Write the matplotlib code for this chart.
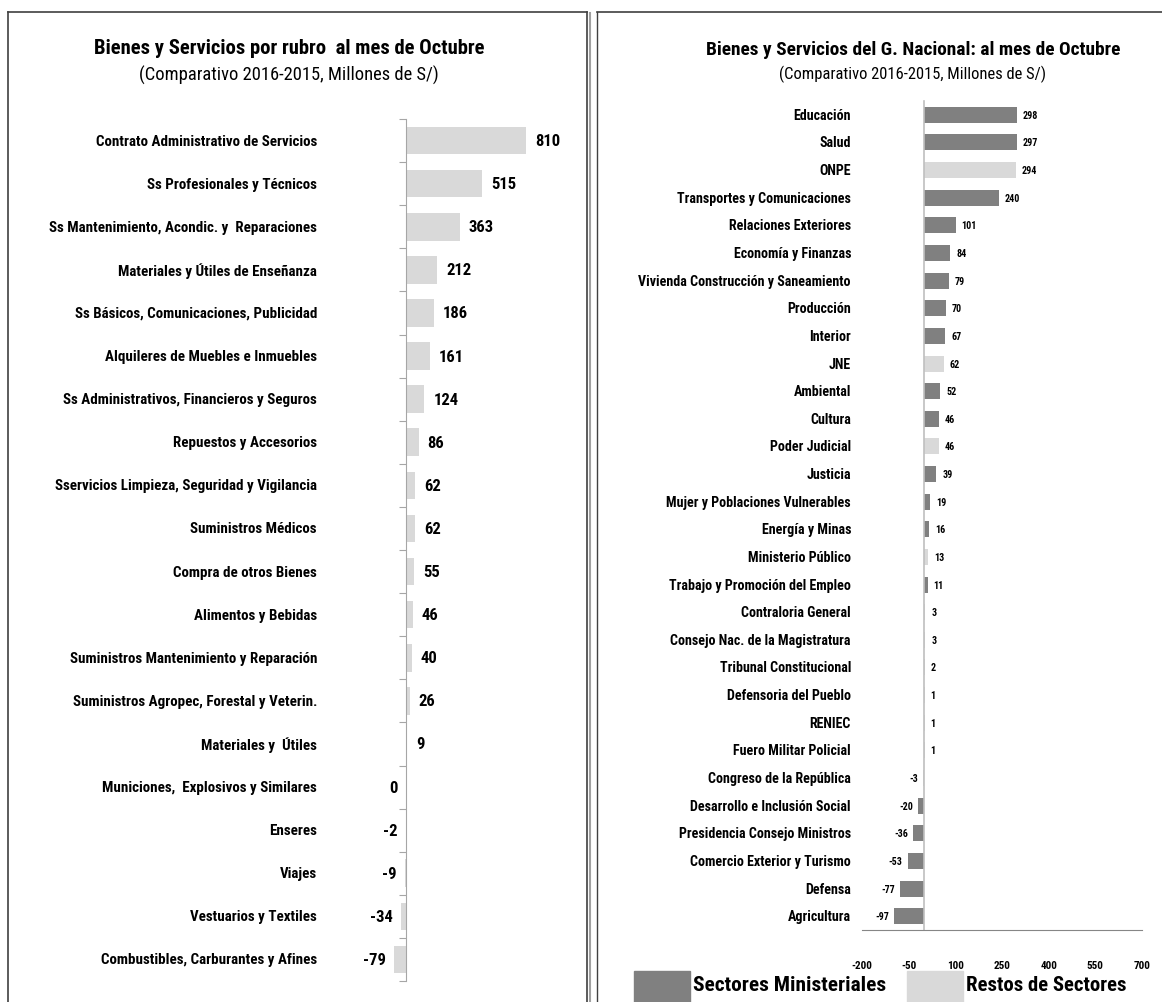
import matplotlib
matplotlib.use("Agg")
import matplotlib.pyplot as plt
from matplotlib import font_manager as fm
from matplotlib.font_manager import FontProperties
from matplotlib.patches import Rectangle
from matplotlib.lines import Line2D

# ---------------- data ----------------
rubros = [
    "Contrato Administrativo de Servicios",
    "Ss Profesionales y Técnicos",
    "Ss Mantenimiento, Acondic. y  Reparaciones",
    "Materiales y Útiles de Enseñanza",
    "Ss Básicos, Comunicaciones, Publicidad",
    "Alquileres de Muebles e Inmuebles",
    "Ss Administrativos, Financieros y Seguros",
    "Repuestos y Accesorios",
    "Sservicios Limpieza, Seguridad y Vigilancia",
    "Suministros Médicos",
    "Compra de otros Bienes",
    "Alimentos y Bebidas",
    "Suministros Mantenimiento y Reparación",
    "Suministros Agropec, Forestal y Veterin.",
    "Materiales y  Útiles",
    "Municiones,  Explosivos y Similares",
    "Enseres",
    "Viajes",
    "Vestuarios y Textiles",
    "Combustibles, Carburantes y Afines",
]
rubro_vals = [810, 515, 363, 212, 186, 161, 124, 86, 62, 62, 55, 46, 40, 26, 9, 0, -2, -9, -34, -79]

sectores = [
    "Educación", "Salud", "ONPE", "Transportes y Comunicaciones",
    "Relaciones Exteriores", "Economía y Finanzas",
    "Vivienda Construcción y Saneamiento", "Producción", "Interior", "JNE",
    "Ambiental", "Cultura", "Poder Judicial", "Justicia",
    "Mujer y Poblaciones Vulnerables", "Energía y Minas", "Ministerio Público",
    "Trabajo y Promoción del Empleo", "Contraloria General",
    "Consejo Nac. de la Magistratura", "Tribunal Constitucional",
    "Defensoria del Pueblo", "RENIEC", "Fuero Militar Policial",
    "Congreso de la República", "Desarrollo e Inclusión Social",
    "Presidencia Consejo Ministros", "Comercio Exterior y Turismo",
    "Defensa", "Agricultura",
]
sector_vals = [298, 297, 294, 240, 101, 84, 79, 70, 67, 62, 52, 46, 46, 39,
               19, 16, 13, 11, 3, 3, 2, 1, 1, 1, -3, -20, -36, -53, -77, -97]
# 1 = Sectores Ministeriales, 0 = Restos de Sectores
sector_tipo = [1, 1, 0, 1, 1, 1, 1, 1, 1, 0, 1, 1, 0, 1,
               1, 1, 0, 1, 0, 0, 0, 0, 0, 0, 0, 1, 1, 1, 1, 1]
x_ticks_right = [-200, -50, 100, 250, 400, 550, 700]
legend_labels = ["Sectores Ministeriales", "Restos de Sectores"]

title_left = "Bienes y Servicios por rubro  al mes de Octubre"
title_right = "Bienes y Servicios del G. Nacional: al mes de Octubre"
subtitle = "(Comparativo 2016-2015, Millones de S/)"

DARK = "#808080"
LIGHT = "#D9D9D9"

# ---------------- fonts: prefer a narrow family (Calibri-like) ----------------
COND_STRETCH = ('condensed', 'semi-condensed', 'extra-condensed', 'ultra-condensed')
PREF = ['Liberation Sans Narrow', 'Roboto Condensed', 'Open Sans Condensed',
        'Noto Sans', 'DejaVu Sans', 'Lato', 'Inter', 'Roboto', 'Open Sans']


def wnum(w):
    if isinstance(w, int):
        return w
    return fm.weight_dict.get(w, 400)


def pick_font(bold):
    cands = []
    for f in fm.fontManager.ttflist:
        st = f.stretch
        is_cond = ('Narrow' in f.name or 'Condensed' in f.name or
                   (isinstance(st, str) and st in COND_STRETCH) or
                   (isinstance(st, int) and st < 500))
        if not is_cond or f.style != 'normal':
            continue
        w = wnum(f.weight)
        if bold and not (600 <= w <= 800):
            continue
        if not bold and not (350 <= w <= 500):
            continue
        rank = PREF.index(f.name) if f.name in PREF else len(PREF)
        cands.append((rank, abs(w - (700 if bold else 400)), f.fname))
    if cands:
        cands.sort()
        return FontProperties(fname=cands[0][2])
    return FontProperties(family=['Liberation Sans', 'DejaVu Sans'],
                          weight='bold' if bold else 'normal')


FB = pick_font(True)
FR = pick_font(False)

W, H = 1162, 1003
fig = plt.figure(figsize=(W / 100, H / 100), dpi=100)
renderer = fig.canvas.get_renderer()


def fit(s, base, target_px):
    p = base.copy()
    p.set_size(10)
    w, h, d = renderer.get_text_width_height_descent(s, p, ismath=False)
    p.set_size(10 * target_px / w)
    return p


def sized(base, pt):
    p = base.copy()
    p.set_size(pt)
    return p


def fx(px):
    return px / W


def fy(py):
    return 1 - py / H


def axes_px(x0, y0, x1, y1):
    return fig.add_axes([fx(x0), fy(y1), fx(x1) - fx(x0), fy(y0) - fy(y1)])


# ---------------- panel borders ----------------
fig.add_artist(Line2D([fx(8), fx(8)], [fy(13), 0], color="#404040", lw=1.2))
fig.add_artist(Line2D([fx(8), fx(587)], [fy(13), fy(13)], color="#404040", lw=1.2))
fig.add_artist(Line2D([fx(587), fx(587)], [fy(13), 0], color="#404040", lw=1.2))
fig.add_artist(Line2D([fx(590), fx(590)], [fy(14), 0], color="#A0A0A0", lw=1.5))
fig.add_artist(Line2D([fx(597), fx(597)], [fy(13), 0], color="#404040", lw=1.0))
fig.add_artist(Line2D([fx(597), 1], [fy(13), fy(13)], color="#404040", lw=1.2))

# ---------------- left panel ----------------
axL = axes_px(380, 120, 570, 982)
n = len(rubros)
ypos = list(range(n))
axL.barh(ypos, rubro_vals, height=0.64, color=LIGHT)
axL.set_ylim(n - 0.5, -0.5)
scale_l = 0.1481  # px per unit
axL.set_xlim(-26 / scale_l, 164 / scale_l)
for s in ["top", "right", "bottom"]:
    axL.spines[s].set_visible(False)
axL.spines["left"].set_position(("data", 0))
axL.spines["left"].set_color("#A6A6A6")
axL.set_xticks([])
axL.set_yticks([i - 0.5 for i in range(n + 1)])
axL.set_yticklabels([])
axL.tick_params(axis="y", length=5, color="#A6A6A6", direction="out")

p_catL = fit("Contrato Administrativo de Servicios", FB, 222)
p_valL = sized(FB, 12)
for i, (lab, v) in enumerate(zip(rubros, rubro_vals)):
    axL.annotate(lab, xy=(0, i), xycoords=("axes fraction", "data"),
                 xytext=(317 - 380, 0), textcoords="offset pixels",
                 ha="right", va="center", fontproperties=p_catL)
    if v > 0:
        axL.annotate(f"{v}", xy=(v, i), xytext=(9, 0), textcoords="offset pixels",
                     ha="left", va="center", fontproperties=p_valL)
    else:
        axL.annotate(f"{v}", xy=(v, i), xytext=(-8, 0), textcoords="offset pixels",
                     ha="right", va="center", fontproperties=p_valL)

fig.text(fx(289), fy(48), title_left, ha="center", va="center",
         fontproperties=fit(title_left, FB, 392))
fig.text(fx(289), fy(75), subtitle, ha="center", va="center",
         fontproperties=fit(subtitle, FR, 297))

# ---------------- right panel ----------------
axR = axes_px(862, 102, 1142, 931)
m = len(sectores)
ypos2 = list(range(m))
colors = [DARK if t == 1 else LIGHT for t in sector_tipo]
axR.barh(ypos2, sector_vals, height=0.58, color=colors)
axR.set_ylim(m - 0.5, -0.5)
axR.set_xlim(-200, 700)
for s in ["top", "right"]:
    axR.spines[s].set_visible(False)
axR.spines["left"].set_position(("data", 0))
axR.spines["left"].set_color("#BFBFBF")
axR.spines["left"].set_linewidth(1.2)
axR.spines["bottom"].set_color("#868686")
axR.set_yticks([])
axR.set_xticks(x_ticks_right)
p_tick = sized(FB, 8)
axR.set_xticklabels([str(t) for t in x_ticks_right], fontproperties=p_tick)
axR.tick_params(axis="x", length=0, pad=21.5)

p_catR = fit("Vivienda Construcción y Saneamiento", FB, 212)
p_valR = sized(FB, 7.2)
for i, (lab, v) in enumerate(zip(sectores, sector_vals)):
    axR.annotate(lab, xy=(0, i), xycoords=("axes fraction", "data"),
                 xytext=(851 - 862, 0), textcoords="offset pixels",
                 ha="right", va="center", fontproperties=p_catR)
    if v > 0:
        axR.annotate(f"{v}", xy=(v, i), xytext=(6, 0), textcoords="offset pixels",
                     ha="left", va="center", fontproperties=p_valR)
    else:
        axR.annotate(f"{v}", xy=(v, i), xytext=(-5, 0), textcoords="offset pixels",
                     ha="right", va="center", fontproperties=p_valR)

fig.text(fx(913), fy(50), title_right, ha="center", va="center",
         fontproperties=fit(title_right, FB, 414))
fig.text(fx(912), fy(74), subtitle, ha="center", va="center",
         fontproperties=fit(subtitle, FR, 265))

# legend
leg_x = [634, 907]
leg_w = [193, 161]
leg_c = [DARK, LIGHT]
for xx, cc, lab, tw in zip(leg_x, leg_c, legend_labels, leg_w):
    fig.add_artist(Rectangle((fx(xx), fy(1003)), fx(xx + 56) - fx(xx), fy(972) - fy(1003),
                             transform=fig.transFigure, color=cc))
    fig.text(fx(xx + 59), fy(986), lab, ha="left", va="center",
             fontproperties=fit(lab, FB, tw))

fig.savefig("out.png", dpi=100)
